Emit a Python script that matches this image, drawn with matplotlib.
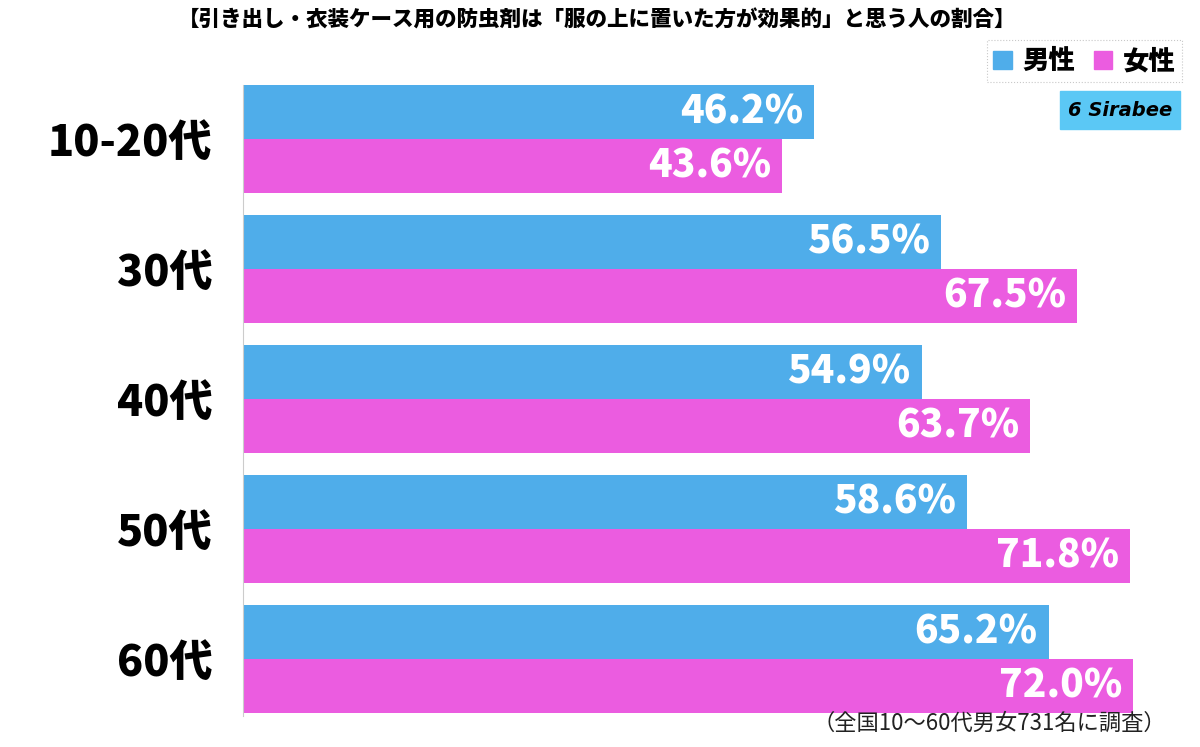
import matplotlib.pyplot as plt
from matplotlib.patches import Patch, Rectangle
import numpy as np

plt.rcParams['font.family'] = ['Noto Sans CJK JP', 'DejaVu Sans']

categories = ["10-20代", "30代", "40代", "50代", "60代"]
male = [46.2, 56.5, 54.9, 58.6, 65.2]
female = [43.6, 67.5, 63.7, 71.8, 72.0]
series_names = ["男性", "女性"]
title = "【引き出し・衣装ケース用の防虫剤は「服の上に置いた方が効果的」と思う人の割合】"
note = "（全国10～60代男女731名に調査）"

blue = "#4FADEA"
pink = "#EB5CE0"

fig = plt.figure(figsize=(12, 7.47), dpi=100)
ax = fig.add_axes([243/1200, 1-716/747, 1-243/1200, (716-85)/747])

y = np.arange(len(categories))
h = 54/130
ax.barh(y - h/2, male, height=h, color=blue)
ax.barh(y + h/2, female, height=h, color=pink)

for i in range(len(categories)):
    ax.text(male[i] - 0.9, y[i] - h/2, f"{male[i]:.1f}%", color="white", fontsize=28,
            fontweight="heavy", ha="right", va="center")
    ax.text(female[i] - 0.9, y[i] + h/2, f"{female[i]:.1f}%", color="white", fontsize=28,
            fontweight="heavy", ha="right", va="center")

ax.set_xlim(0, 957/12.36)
ax.set_ylim(4 + 57/130, -54/130)
ax.set_yticks(y)
ax.set_yticklabels(categories, fontsize=31, fontweight="heavy")
ax.tick_params(axis="y", length=0, pad=22)
ax.set_xticks([])
for s in ["top", "right", "bottom"]:
    ax.spines[s].set_visible(False)
ax.spines["left"].set_color("#cccccc")

fig.text(597/1200, 1-20/747, title, ha="center", va="center", fontsize=15.5, fontweight="heavy")
fig.text(1166/1200, 1-723/747, note, ha="right", va="center", fontsize=16, color="#222222")

handles = [Patch(color=blue), Patch(color=pink)]
leg = fig.legend(handles, series_names, loc="upper right", bbox_to_anchor=(1182/1200, 1-40/747),
                 ncol=2, prop={'weight': 'heavy', 'size': 19}, handlelength=0.7, handleheight=0.7,
                 handletextpad=0.4, columnspacing=0.7, fancybox=False, edgecolor="#bbbbbb",
                 borderpad=0.25, borderaxespad=0)
leg.get_frame().set_linewidth(0.8)
leg.get_frame().set_linestyle(":")

fig.patches.append(Rectangle((1060/1200, 1-129/747), 120/1200, 38/747, transform=fig.transFigure,
                             color="#5BC8F5", zorder=1))
fig.text(1120/1200, 1-110/747, "6 Sirabee", ha="center", va="center", fontsize=14,
         fontweight="bold", style="italic", family="DejaVu Sans", color="black")

fig.savefig("out.png", dpi=100)
